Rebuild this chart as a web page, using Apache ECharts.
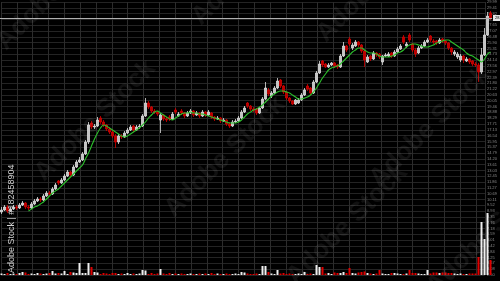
<!DOCTYPE html>
<html><head><meta charset="utf-8">
<style>html,body{margin:0;padding:0;background:#000;}#c{width:500px;height:281px;}</style>
<script src="https://cdn.jsdelivr.net/npm/echarts@6/dist/echarts.min.js"></script>
</head><body><div id="c"></div>
<script>
const opens=[8.8,9.0,9.3,8.9,9.1,9.3,9.2,9.5,9.7,9.3,
9.2,9.6,9.9,10.1,10.0,10.4,10.7,10.6,11.1,11.9,
11.7,12.0,12.4,12.8,12.5,13.3,13.8,14.0,14.6,15.8,
17.7,17.3,17.4,18.2,17.8,17.5,17.1,16.8,16.4,15.8,
16.4,16.3,16.7,17.0,17.4,17.0,17.3,17.4,18.4,19.7,
19.3,18.9,18.8,18.0,18.5,18.1,18.3,18.1,19.0,18.4,
18.9,18.7,18.4,18.7,18.9,18.5,18.7,18.4,18.8,18.5,
18.7,18.3,18.1,18.2,17.9,18.0,17.6,17.4,17.8,17.9,
18.2,18.8,19.7,19.4,19.1,19.1,18.7,19.2,20.1,21.0,
20.4,20.7,21.2,22.0,21.4,20.8,20.2,19.9,19.6,19.7,
20.0,20.5,21.4,21.2,20.7,21.8,22.7,23.9,23.6,23.3,
23.5,23.7,23.5,23.3,24.4,25.4,26.1,25.2,25.4,25.8,
25.5,24.9,23.8,24.4,24.1,24.7,24.6,23.8,24.4,24.4,
24.7,24.4,24.8,25.1,26.3,25.4,26.5,25.6,25.0,24.7,
25.2,25.4,25.8,26.4,25.9,25.9,25.7,26.1,25.9,25.7,
25.2,24.6,24.3,24.0,24.4,23.9,24.1,23.9,23.6,23.5,
22.8,24.5,26.5,28.7];
const closes=[9.0,9.3,8.9,9.1,9.3,9.2,9.5,9.7,9.3,9.2,
9.6,9.9,10.1,10.0,10.4,10.7,10.6,11.1,11.5,11.7,
12.0,12.4,12.8,12.5,13.3,13.8,14.0,14.6,15.8,17.5,
17.3,17.4,18.0,17.8,17.5,17.1,16.8,16.4,15.8,16.4,
16.3,16.7,17.0,17.3,17.0,17.3,17.4,18.4,19.7,19.3,
18.9,18.8,18.6,18.5,18.1,18.0,18.1,18.6,18.8,18.6,
18.7,18.4,18.7,18.9,18.5,18.7,18.4,18.8,18.5,18.8,
18.3,18.1,18.2,17.9,18.0,17.6,17.4,17.8,17.9,18.2,
18.8,19.2,19.4,19.1,19.0,18.7,19.2,20.1,21.2,20.6,
20.7,21.2,21.9,21.4,20.8,20.2,19.9,19.6,20.0,20.0,
20.5,21.0,21.1,20.7,21.8,22.7,23.6,23.5,23.3,23.5,
23.7,23.4,23.3,24.4,25.4,25.0,25.6,25.5,25.8,25.5,
24.9,24.0,24.3,24.1,24.7,24.5,24.3,24.4,24.5,24.6,
24.4,24.8,25.1,25.4,25.8,25.6,26.0,25.0,24.6,25.2,
25.4,25.8,26.0,26.0,25.8,25.7,26.0,25.9,25.7,25.2,
24.8,24.8,24.6,24.4,24.0,24.1,23.8,23.6,23.5,22.8,
24.5,26.5,28.4,28.2];
const lows=[8.6,8.9,8.7,8.8,9.0,9.0,9.1,9.4,9.1,9.0,
9.1,9.5,9.8,9.8,9.9,10.3,10.4,10.5,11.0,11.5,
11.6,11.9,12.3,12.3,12.4,13.2,13.7,13.9,14.5,15.6,
17.1,17.1,17.3,17.6,17.3,16.9,16.6,16.2,15.2,15.6,
16.1,16.2,16.6,16.9,16.8,16.9,17.1,17.3,18.3,19.1,
18.7,18.6,18.4,16.7,17.9,17.8,17.9,18.0,18.6,18.3,
18.5,18.2,18.3,18.6,18.3,18.4,18.2,18.3,18.3,18.4,
18.1,17.9,18.0,17.7,17.8,17.4,17.2,17.3,17.7,17.8,
18.1,18.7,19.2,18.9,18.8,18.5,18.6,19.1,20.0,20.4,
20.2,20.6,21.1,21.2,20.6,20.0,19.7,19.5,19.5,19.6,
19.9,20.4,20.9,20.5,20.6,21.7,22.6,23.3,23.2,23.2,
23.4,23.2,23.1,23.2,24.3,24.8,25.4,25.0,25.3,25.3,
24.7,23.3,23.7,23.9,24.0,24.3,24.1,23.5,24.3,24.3,
24.2,24.3,24.7,25.0,25.6,25.2,25.8,24.8,24.3,24.6,
25.1,25.3,25.7,25.8,25.6,25.5,25.6,25.7,25.5,25.0,
24.5,24.4,24.1,23.8,23.7,23.8,23.6,23.4,23.3,21.8,
22.6,24.4,26.4,28.0];
const highs=[9.3,9.5,9.5,9.3,9.5,9.5,9.7,9.9,9.8,9.5,
9.8,10.1,10.3,10.3,10.6,10.9,10.9,11.3,11.7,12.0,
12.2,12.6,13.0,12.9,13.5,14.0,14.3,14.8,16.0,17.8,
17.9,17.6,18.3,18.4,18.0,17.6,17.3,17.0,16.6,16.6,
16.6,16.9,17.2,17.5,17.5,17.5,17.6,18.6,20.2,19.9,
19.4,19.1,18.9,18.7,18.6,18.3,18.5,18.8,19.2,18.8,
19.1,18.8,18.9,19.1,19.0,18.9,18.8,19.0,18.9,19.0,
18.8,18.4,18.4,18.3,18.2,18.1,17.8,18.0,18.1,18.4,
19.0,19.4,19.8,19.5,19.3,19.2,19.3,20.3,21.8,21.2,
20.9,21.4,22.2,22.1,21.5,20.9,20.3,20.0,20.1,20.2,
20.7,21.2,21.6,21.3,22.0,22.9,23.9,24.0,23.7,23.7,
23.8,23.8,23.6,24.6,25.8,25.5,26.3,25.7,26.0,25.9,
25.6,25.0,24.5,24.5,24.9,24.8,24.7,24.5,24.7,24.8,
24.8,25.0,25.3,25.6,26.5,25.8,26.7,25.7,25.2,25.4,
25.6,26.0,26.2,26.5,26.1,26.0,26.2,26.2,26.0,25.8,
25.3,25.0,24.8,24.6,24.5,24.3,24.2,24.0,23.8,23.7,
25.2,27.2,28.8,28.9];
const ma=[null,null,null,null,null,null,null,null,null,8.9,
9.1,9.3,9.4,9.6,9.8,10.1,10.4,10.7,10.9,11.1,
11.4,11.7,12.0,12.3,12.6,12.9,13.2,13.5,14.1,14.7,
15.4,16.1,16.7,17.2,17.5,17.4,17.2,17.0,16.8,16.6,
16.4,16.3,16.4,16.6,16.8,17.0,17.2,17.5,17.8,18.2,
18.5,18.8,18.9,18.7,18.5,18.3,18.1,18.0,18.2,18.4,
18.6,18.7,18.7,18.8,18.7,18.7,18.6,18.6,18.5,18.4,
18.3,18.2,18.1,18.0,17.9,17.8,17.7,17.7,17.7,17.8,
18.0,18.3,18.6,18.8,19.0,19.1,19.3,19.5,19.8,20.1,
20.4,20.6,20.8,20.9,20.9,20.8,20.7,20.5,20.3,20.1,
20.1,20.2,20.3,20.5,20.8,21.2,21.7,22.2,22.6,23.0,
23.2,23.3,23.4,23.6,23.9,24.2,24.5,24.8,25.0,25.2,
25.2,25.0,24.8,24.7,24.7,24.6,24.4,24.3,24.3,24.3,
24.4,24.5,24.7,24.8,25.0,25.3,25.5,25.6,25.6,25.5,
25.4,25.3,25.3,25.4,25.5,25.7,25.8,25.9,26.0,26.0,
25.8,25.6,25.4,25.2,25.0,24.7,24.5,24.4,24.2,24.0,
23.8,24.1,24.6,24.8];
const volumes=[150,100,200,100,150,100,200,300,250,100,
150,100,200,150,100,150,200,400,150,200,
150,400,100,300,250,200,1200,200,200,1200,
800,300,250,100,200,150,100,200,200,100,
150,100,200,100,150,100,150,500,450,100,
200,100,150,600,150,100,200,100,150,100,
150,100,100,150,100,100,150,100,150,100,
200,100,150,100,100,150,100,100,150,100,
300,250,150,100,100,150,100,900,900,300,
150,100,500,150,200,100,150,100,100,150,
100,300,100,150,100,1000,800,800,150,200,
100,250,200,200,300,200,700,200,150,250,
300,350,200,150,100,150,500,150,100,100,
200,200,150,100,100,150,500,200,200,150,
100,100,500,150,250,250,200,250,250,200,
200,150,100,150,100,100,150,150,150,1800,
5300,3600,6200,1500];
const watermarks=[[10,55],[205,30],[330,47],[48,186],[178,222],[383,192],[300,290],[440,300]];
const sideLabel='Adobe Stock | #182458904';

const categories=opens.map((_,i)=>'D'+(i+1));
const candles=opens.map((o,i)=>[o,closes[i],lows[i],highs[i]]);
const n=closes.length;
const lastClose=closes[n-1], lastMa=ma[n-1], lastVol=volumes[n-1];

const chart=echarts.init(document.getElementById('c'));
const graphics=watermarks.map(p=>({type:'text',x:p[0],y:p[1],rotation:Math.PI/4,z:100,silent:true,
  style:{text:'Adobe Stock',fill:'rgba(255,255,255,0.065)',font:'bold 26px "Liberation Sans", Arial, sans-serif',textAlign:'left',textVerticalAlign:'bottom',align:'left',verticalAlign:'bottom'}}));
graphics.push({type:'text',x:12,y:273,rotation:Math.PI/2,z:101,silent:true,
  style:{text:sideLabel,fill:'#d0d0d0',font:'9px "Liberation Sans", Arial, sans-serif',textAlign:'left',textVerticalAlign:'middle',align:'left',verticalAlign:'middle'}});

chart.setOption({
  animation:false,
  backgroundColor:'#000',
  graphic:graphics,
  grid:[
    {left:1,top:0,width:489,height:275},
    {left:0,top:0,width:492,height:275},
    {left:0,top:210,width:492,height:65}
  ],
  xAxis:[
    {type:'value',gridIndex:0,min:0,max:489,interval:16,axisLine:{show:false},axisTick:{show:false},axisLabel:{show:false},
     splitLine:{show:true,lineStyle:{color:'#2c2c2c',width:1}}},
    {type:'category',gridIndex:1,data:categories,show:false,boundaryGap:true},
    {type:'category',gridIndex:2,data:categories,show:false,boundaryGap:true}
  ],
  yAxis:[
    {type:'value',gridIndex:0,min:0,max:47,interval:1,position:'right',axisLine:{show:false},axisTick:{show:false},
     axisLabel:{show:true,fontSize:4,color:'#8a8a8a',margin:2,formatter:v=>(2.5+v*0.585).toFixed(2)},
     splitLine:{show:true,lineStyle:{color:'#242424',width:1}}},
    {type:'value',gridIndex:1,min:2.5,max:30,show:false,splitLine:{show:false}},
    {type:'value',gridIndex:2,min:0,max:6500,show:false,splitLine:{show:false}}
  ],
  series:[
    {type:'candlestick',xAxisIndex:1,yAxisIndex:1,data:candles,barWidth:2,
     itemStyle:{color:'#c4c4c4',color0:'#b80000',borderColor:'#dcdcdc',borderColor0:'#d20000',borderWidth:0.8},
     markLine:{symbol:'none',silent:true,animation:false,data:[{yAxis:lastClose}],
       lineStyle:{color:'#b0b0b0',type:'solid',width:1},
       label:{show:true,position:'end',distance:1,formatter:()=>lastClose.toFixed(2),fontSize:4,color:'#000',backgroundColor:'#e6e6e6',padding:[1,2]}}},
    {type:'line',xAxisIndex:1,yAxisIndex:1,data:ma,showSymbol:false,smooth:0.3,
     lineStyle:{color:'#2cc02c',width:1.1},
     markLine:{symbol:'none',silent:true,animation:false,data:[{yAxis:lastMa}],
       lineStyle:{opacity:0},
       label:{show:true,position:'end',distance:1,formatter:()=>lastMa.toFixed(2),fontSize:4,color:'#063',backgroundColor:'#33dd33',padding:[0,2]}}},
    {type:'bar',xAxisIndex:2,yAxisIndex:2,barWidth:2,
     data:volumes.map((v,i)=>({value:v,itemStyle:{color:closes[i]>=opens[i]?'#efefef':'#e00000'}})),
     markLine:{symbol:'none',silent:true,animation:false,data:[{yAxis:lastVol}],
       lineStyle:{opacity:0},
       label:{show:true,position:'end',distance:1,formatter:()=>String(lastVol),fontSize:4,color:'#300',backgroundColor:'#e00000',padding:[0,2]}}}
  ]
});
</script></body></html>
